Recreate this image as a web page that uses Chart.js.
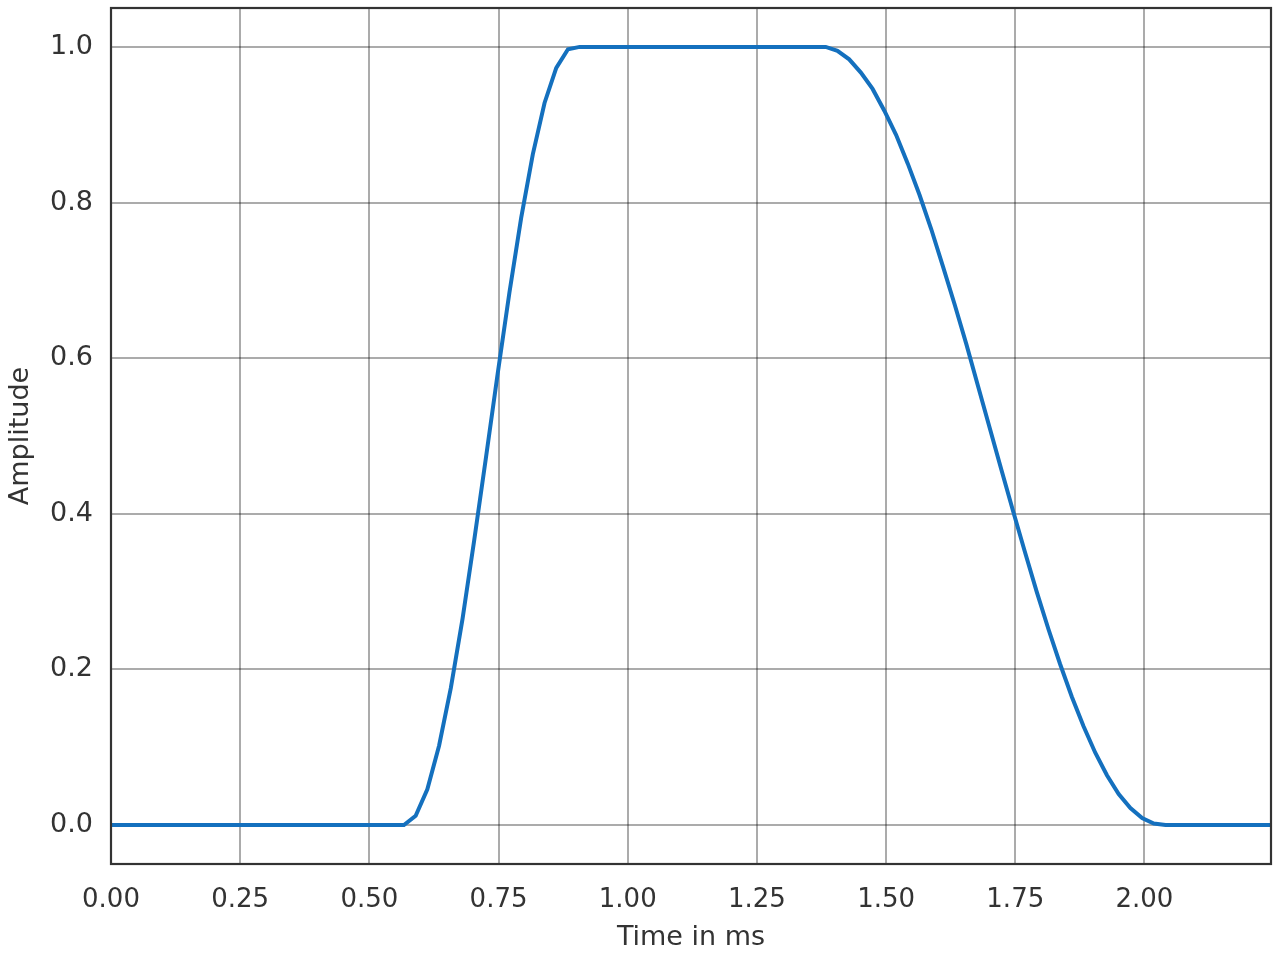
<!DOCTYPE html>
<html>
<head>
<meta charset="utf-8">
<script src="https://cdn.jsdelivr.net/npm/chart.js@4/dist/chart.umd.min.js"></script>
<style>
  html, body { margin: 0; padding: 0; background: #fff; }
  canvas { display: block; }
</style>
</head>
<body>
<canvas id="pulse_chart" width="1280" height="960"></canvas>
<script>
// time of each sample in ms (44.1 kHz)
const timeMs = [
  0.0000, 0.0227, 0.0454, 0.0680, 0.0907, 0.1134, 0.1361, 0.1587, 0.1814, 0.2041,
  0.2268, 0.2494, 0.2721, 0.2948, 0.3175, 0.3401, 0.3628, 0.3855, 0.4082, 0.4308,
  0.4535, 0.4762, 0.4989, 0.5215, 0.5442, 0.5669, 0.5896, 0.6122, 0.6349, 0.6576,
  0.6803, 0.7029, 0.7256, 0.7483, 0.7710, 0.7937, 0.8163, 0.8390, 0.8617, 0.8844,
  0.9070, 0.9297, 0.9524, 0.9751, 0.9977, 1.0204, 1.0431, 1.0658, 1.0884, 1.1111,
  1.1338, 1.1565, 1.1791, 1.2018, 1.2245, 1.2472, 1.2698, 1.2925, 1.3152, 1.3379,
  1.3605, 1.3832, 1.4059, 1.4286, 1.4512, 1.4739, 1.4966, 1.5193, 1.5420, 1.5646,
  1.5873, 1.6100, 1.6327, 1.6553, 1.6780, 1.7007, 1.7234, 1.7460, 1.7687, 1.7914,
  1.8141, 1.8367, 1.8594, 1.8821, 1.9048, 1.9274, 1.9501, 1.9728, 1.9955, 2.0181,
  2.0408, 2.0635, 2.0862, 2.1088, 2.1315, 2.1542, 2.1769, 2.1995, 2.2222, 2.2449
];

const amplitude = [
  0, 0, 0, 0, 0, 0, 0, 0, 0, 0,
  0, 0, 0, 0, 0, 0, 0, 0, 0, 0,
  0, 0, 0, 0, 0, 0, 0.012, 0.046, 0.102, 0.176,
  0.265, 0.366, 0.472, 0.580, 0.684, 0.780, 0.862, 0.928, 0.973, 0.997,
  1, 1, 1, 1, 1, 1, 1, 1, 1, 1,
  1, 1, 1, 1, 1, 1, 1, 1, 1, 1,
  1, 1, 0.995, 0.984, 0.967, 0.946, 0.918, 0.887, 0.850, 0.810,
  0.766, 0.718, 0.669, 0.618, 0.564, 0.510, 0.456, 0.403, 0.351, 0.300,
  0.252, 0.207, 0.165, 0.127, 0.093, 0.064, 0.040, 0.022, 0.009, 0.002,
  0, 0, 0, 0, 0, 0, 0, 0, 0, 0
];

const xTicks = [0, 0.25, 0.5, 0.75, 1.0, 1.25, 1.5, 1.75, 2.0];
const yTicks = [0, 0.2, 0.4, 0.6, 0.8, 1.0];

const textColor = "#333333";
const gridColor = "rgba(0, 0, 0, 0.33)";

// black frame round the plot area, like the axes spines
const frame = {
  id: "frame",
  afterDraw: (chart) => {
    const { ctx, chartArea } = chart;
    ctx.save();
    ctx.strokeStyle = "#333333";
    ctx.lineWidth = 2.2;
    ctx.strokeRect(
      chartArea.left,
      chartArea.top,
      chartArea.right - chartArea.left,
      chartArea.bottom - chartArea.top
    );
    ctx.restore();
  },
};

// no extra room for half tick labels, the plot box is fixed
function noLabelPadding(scale) {
  scale.paddingTop = 0;
  scale.paddingBottom = 0;
  scale.paddingLeft = 0;
  scale.paddingRight = 0;
}

const points = timeMs.map((t, i) => ({ x: t, y: amplitude[i] }));

let chart = new Chart(document.getElementById("pulse_chart"), {
  type: "line",
  data: {
    datasets: [
      {
        label: "Amplitude",
        data: points,
        borderColor: "#1470be",
        borderWidth: 4,
        pointRadius: 0,
        tension: 0,
        fill: false,
      },
    ],
  },
  options: {
    responsive: false,
    animation: false,
    layout: { padding: { top: 8, right: 9, left: 0, bottom: 0 } },
    plugins: {
      legend: { display: false },
      tooltip: { enabled: false },
    },
    scales: {
      x: {
        type: "linear",
        min: 0,
        max: 2.2449,
        afterBuildTicks: (scale) => {
          scale.ticks = xTicks.map((v) => ({ value: v }));
        },
        afterFit: (scale) => {
          scale.height = 96;
          noLabelPadding(scale);
        },
        grid: { color: gridColor, lineWidth: 2, drawTicks: false },
        border: { display: false },
        ticks: {
          color: textColor,
          font: { family: "DejaVu Sans", size: 26 },
          padding: 21,
          maxRotation: 0,
          autoSkip: false,
          callback: (v) => Number(v).toFixed(2),
        },
        title: {
          display: true,
          text: "Time in ms",
          color: textColor,
          font: { family: "DejaVu Sans", size: 27 },
          padding: { top: 0, bottom: 6 },
        },
      },
      y: {
        type: "linear",
        min: -0.05,
        max: 1.05,
        afterBuildTicks: (scale) => {
          scale.ticks = yTicks.map((v) => ({ value: v }));
        },
        afterFit: (scale) => {
          scale.width = 111;
          noLabelPadding(scale);
        },
        grid: { color: gridColor, lineWidth: 2, drawTicks: false },
        border: { display: false },
        ticks: {
          color: textColor,
          font: { family: "DejaVu Sans", size: 27 },
          padding: 18,
          autoSkip: false,
          callback: (v) => Number(v).toFixed(1),
        },
        title: {
          display: true,
          text: "Amplitude",
          color: textColor,
          font: { family: "DejaVu Sans", size: 27 },
          padding: { top: 5, bottom: 0 },
        },
      },
    },
  },
  plugins: [frame],
});
</script>
</body>
</html>
